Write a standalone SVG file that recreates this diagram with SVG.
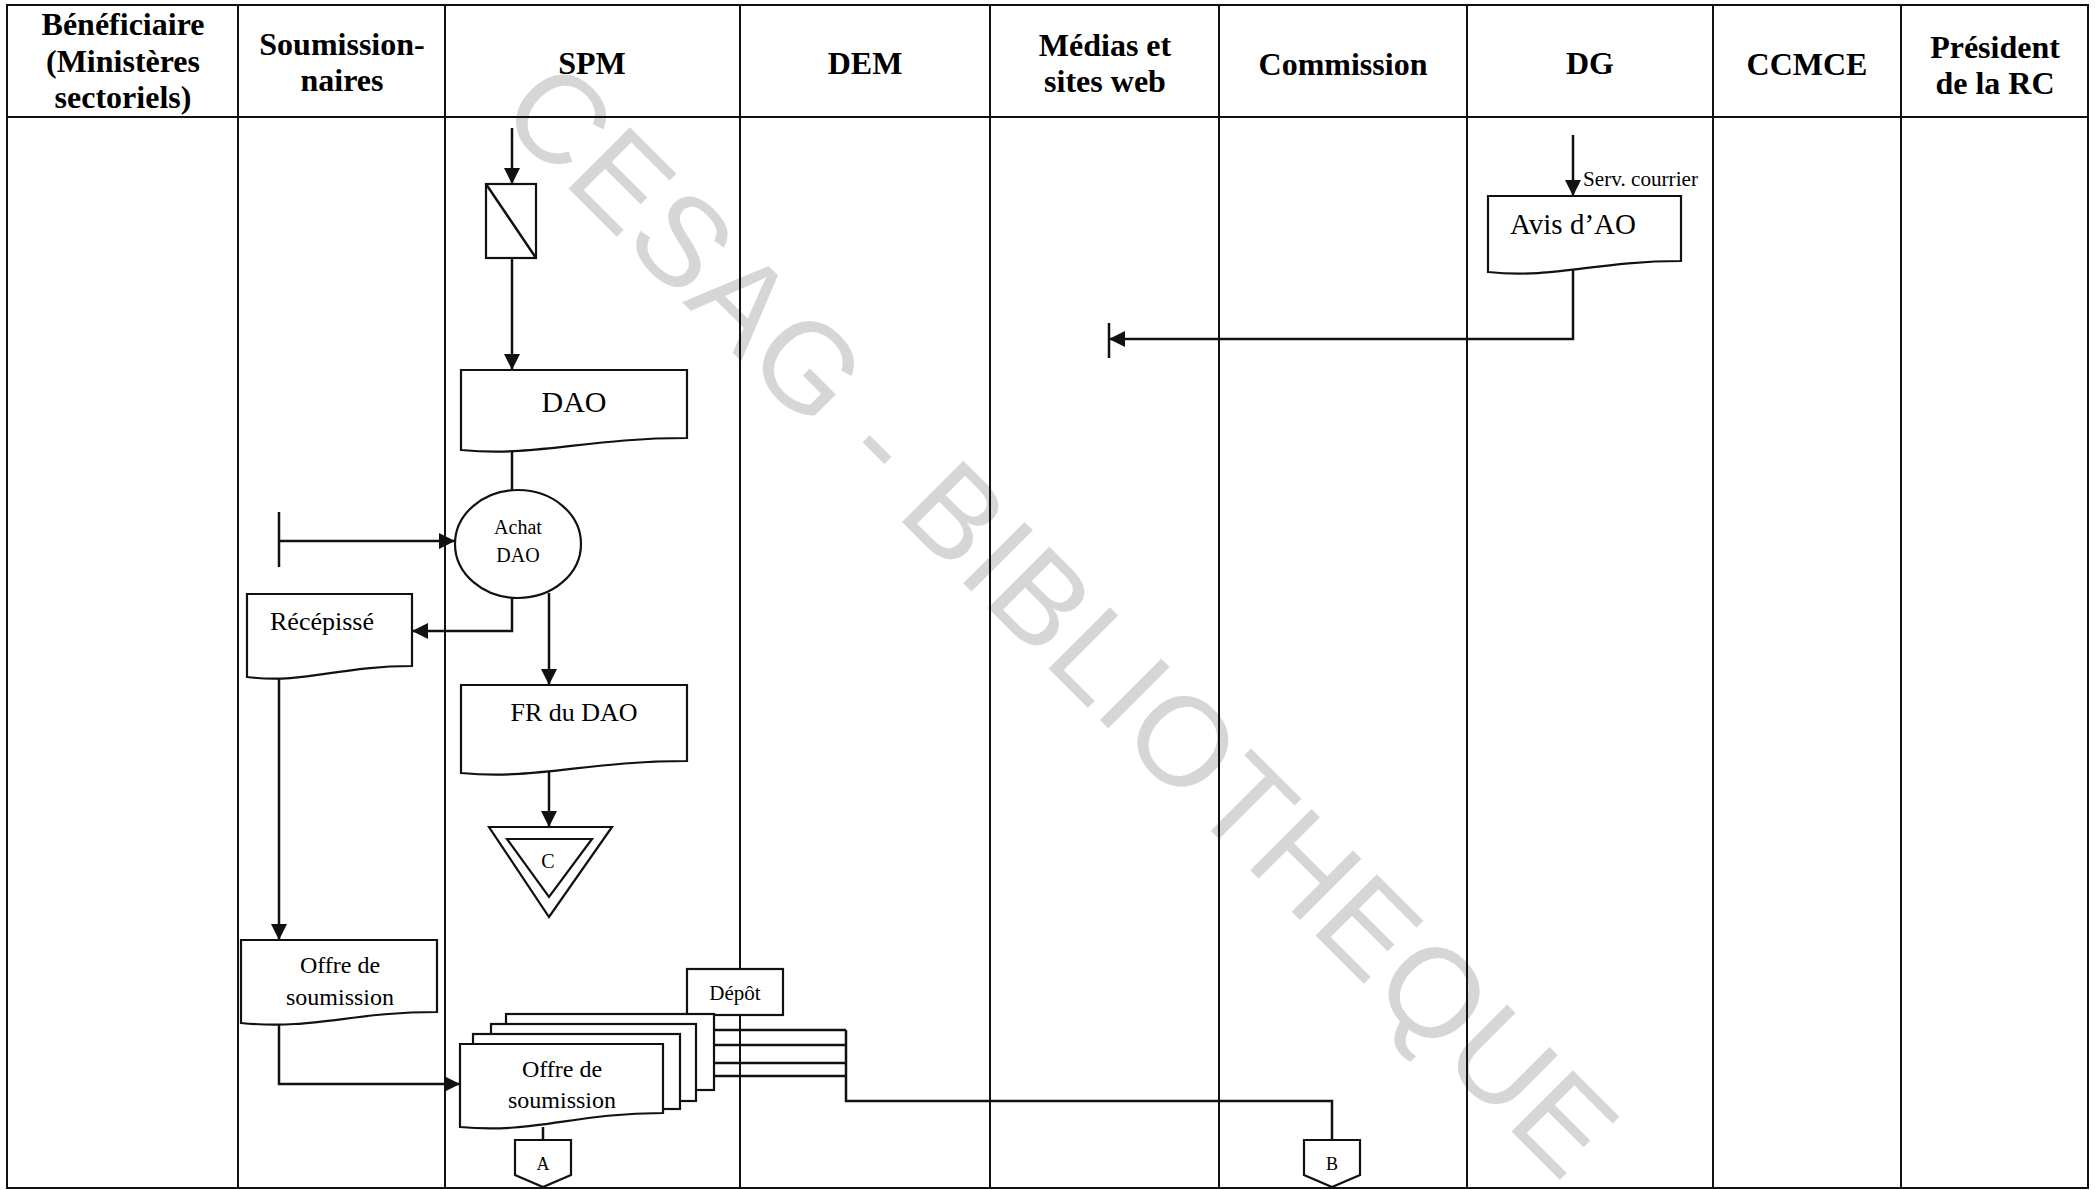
<svg xmlns="http://www.w3.org/2000/svg" width="2095" height="1190" viewBox="0 0 2095 1190">
<style>
.bg{fill:#ffffff}
.lane{stroke:#111;stroke-width:2;fill:none}
.hd{font-family:"Liberation Serif","Times New Roman",serif;font-weight:bold;font-size:32px;fill:#000;text-anchor:middle}
.sh{fill:#fff;stroke:#111;stroke-width:2.2}
.ln{fill:none;stroke:#111;stroke-width:2.5}
.t{font-family:"Liberation Serif","Times New Roman",serif;fill:#000;text-anchor:middle}
.ts{font-family:"Liberation Serif","Times New Roman",serif;fill:#000;text-anchor:start}
.wm{font-family:"Liberation Sans",Arial,sans-serif;font-size:126px;fill:#d6d6d6}
</style>
<defs>
<marker id="arr" viewBox="0 0 16 16" refX="16" refY="8" markerWidth="16" markerHeight="16" markerUnits="userSpaceOnUse" orient="auto">
<path d="M0,0 L16,8 L0,16 z" fill="#111"/>
</marker>
</defs>
<rect class="bg" x="0" y="0" width="2095" height="1190"/>
<text class="wm" transform="translate(496,116) rotate(45)" x="0" y="0" textLength="1510" lengthAdjust="spacing">CESAG - BIBLIOTHEQUE</text>

<g id="lanes">
<rect class="lane" x="7" y="5" width="2081" height="1183"/>
<line class="lane" x1="7" y1="117" x2="2088" y2="117"/>
<line class="lane" x1="238" y1="5" x2="238" y2="1188"/>
<line class="lane" x1="445" y1="5" x2="445" y2="1188"/>
<line class="lane" x1="740" y1="5" x2="740" y2="1188"/>
<line class="lane" x1="990" y1="5" x2="990" y2="1188"/>
<line class="lane" x1="1219" y1="5" x2="1219" y2="1188"/>
<line class="lane" x1="1467" y1="5" x2="1467" y2="1188"/>
<line class="lane" x1="1713" y1="5" x2="1713" y2="1188"/>
<line class="lane" x1="1901" y1="5" x2="1901" y2="1188"/>
<text class="hd" x="123" y="35">Bénéficiaire</text>
<text class="hd" x="123" y="72">(Ministères</text>
<text class="hd" x="123" y="108">sectoriels)</text>
<text class="hd" x="342" y="55">Soumission-</text>
<text class="hd" x="342" y="91">naires</text>
<text class="hd" x="592" y="74">SPM</text>
<text class="hd" x="865" y="74">DEM</text>
<text class="hd" x="1105" y="56">Médias et</text>
<text class="hd" x="1105" y="92">sites web</text>
<text class="hd" x="1343" y="75">Commission</text>
<text class="hd" x="1590" y="74">DG</text>
<text class="hd" x="1807" y="75">CCMCE</text>
<text class="hd" x="1995" y="58">Président</text>
<text class="hd" x="1995" y="94">de la RC</text>
</g>

<g id="connectors">
<path class="ln" d="M512,128 V184" marker-end="url(#arr)"/>
<path class="ln" d="M512,258 V370" marker-end="url(#arr)"/>
<path class="ln" d="M512,452 V490"/>
<path class="ln" d="M279,512 V567"/>
<path class="ln" d="M279,541 H455" marker-end="url(#arr)"/>
<path class="ln" d="M512,597 V631 H412" marker-end="url(#arr)"/>
<path class="ln" d="M549,593 V685" marker-end="url(#arr)"/>
<path class="ln" d="M549,768 V827" marker-end="url(#arr)"/>
<path class="ln" d="M279,674 V940" marker-end="url(#arr)"/>
<path class="ln" d="M279,1020 V1084 H460" marker-end="url(#arr)"/>
<path class="ln" d="M543,1127 V1140"/>
<path class="ln" d="M714,1030 H846 M697,1045 H846 M683,1063 H846 M665,1076 H846 M846,1030 V1101 H1332 V1140"/>
<path class="ln" d="M1573,135 V196" marker-end="url(#arr)"/>
<path class="ln" d="M1573,270 V339 H1109" marker-end="url(#arr)"/>
<path class="ln" d="M1109,323 V358"/>
</g>

<g id="n-start-spm">
<rect class="sh" x="486" y="184" width="50" height="74"/>
<line class="ln" x1="486" y1="184" x2="536" y2="258"/>
</g>

<g id="n-dao">
<path class="sh" d="M461,370 H687 V438 C585,438 540,457 461,450 Z"/>
<text class="t" x="574" y="412" font-size="30">DAO</text>
</g>

<g id="n-achat">
<ellipse class="sh" cx="518" cy="544" rx="63" ry="54"/>
<text class="t" x="518" y="534" font-size="20">Achat</text>
<text class="t" x="518" y="562" font-size="20">DAO</text>
</g>

<g id="n-recepisse">
<path class="sh" d="M247,594 H412 V666 C338,666 305,684 247,677 Z"/>
<text class="t" x="322" y="630" font-size="26">Récépissé</text>
</g>

<g id="n-fr">
<path class="sh" d="M461,685 H687 V761 C585,761 540,780 461,773 Z"/>
<text class="t" x="574" y="721" font-size="26">FR du DAO</text>
</g>

<g id="n-c">
<polygon class="sh" points="489,827 612,827 549,917"/>
<polygon class="sh" points="507,839 592,839 549,897"/>
<text class="t" x="548" y="868" font-size="20">C</text>
</g>

<g id="n-offre-soum">
<path class="sh" d="M241,940 H437 V1012 C350,1012 315,1030 241,1023 Z"/>
<text class="t" x="340" y="973" font-size="24">Offre de</text>
<text class="t" x="340" y="1005" font-size="24">soumission</text>
</g>

<g id="n-depot">
<rect class="sh" x="687" y="969" width="96" height="46"/>
<text class="t" x="735" y="1000" font-size="21">Dépôt</text>
</g>

<g id="n-offre-spm">
<rect class="sh" x="506" y="1014" width="208" height="76"/>
<rect class="sh" x="491" y="1024" width="205" height="77"/>
<rect class="sh" x="473" y="1034" width="207" height="75"/>
<path class="sh" d="M460,1044 H663 V1113 C573,1113 535,1134 460,1127 Z"/>
<text class="t" x="562" y="1077" font-size="24">Offre de</text>
<text class="t" x="562" y="1108" font-size="24">soumission</text>
</g>

<g id="n-a">
<path class="sh" d="M515,1140 H571 V1175 L543,1187 L515,1175 Z"/>
<text class="t" x="543" y="1170" font-size="18">A</text>
</g>

<g id="n-b">
<path class="sh" d="M1304,1140 H1360 V1175 L1332,1187 L1304,1175 Z"/>
<text class="t" x="1332" y="1170" font-size="18">B</text>
</g>

<g id="n-avis">
<path class="sh" d="M1488,196 H1681 V261 C1595,261 1555,279 1488,272 Z"/>
<text class="ts" x="1510" y="234" font-size="29">Avis d’AO</text>
<text class="ts" x="1583" y="186" font-size="20" textLength="115" lengthAdjust="spacingAndGlyphs">Serv. courrier</text>
</g>
</svg>
